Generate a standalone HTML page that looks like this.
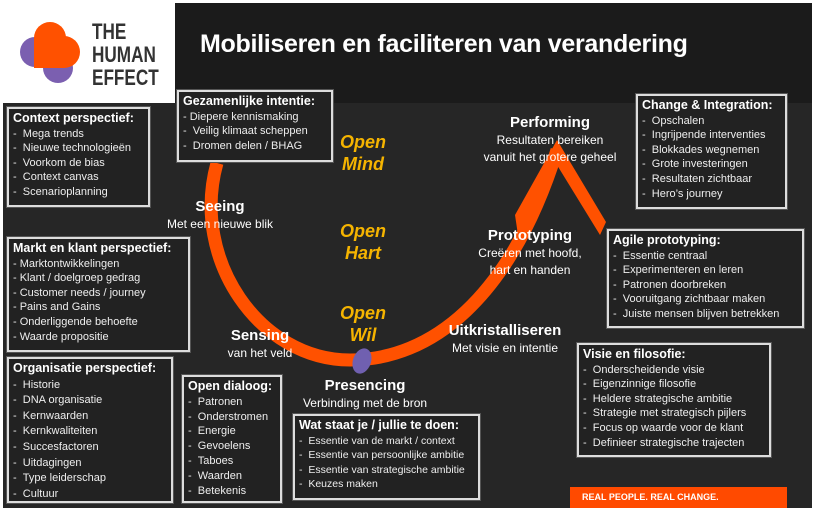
<!DOCTYPE html>
<html><head><meta charset="utf-8"><style>
body{margin:0;width:813px;height:511px;background:#fff;position:relative;overflow:hidden;font-family:"Liberation Sans",sans-serif;}
.box{position:absolute;border:2px solid #ddd;outline:1px solid #555;background:#222;color:#eee;font-size:11px;line-height:14.6px;padding:2px 4px;box-sizing:border-box;white-space:nowrap;overflow:hidden;}
.box b{font-size:12.5px;color:#fff;}
.lbl{position:absolute;color:#fff;text-align:center;font-size:12px;line-height:17px;white-space:nowrap;}
.lbl b{font-size:15px;}
.om{position:absolute;color:#f5b400;font-weight:bold;font-style:italic;font-size:18px;line-height:22px;text-align:center;width:60px;}
</style></head><body>
<div style="position:absolute;left:175px;top:3px;width:637px;height:100px;background:#1b1b1b"></div>
<div style="position:absolute;left:3px;top:103px;width:809px;height:405px;background:#262626"></div>
<div style="position:absolute;left:200px;top:30px;color:#fff;font-weight:bold;font-size:25px;letter-spacing:-0.3px">Mobiliseren en faciliteren van verandering</div>
<svg style="position:absolute;left:0;top:0" width="813" height="511">
<circle cx="35" cy="52" r="15" fill="#7b5fb0"/><circle cx="58" cy="68" r="15" fill="#7b5fb0"/>
<circle cx="50" cy="38" r="16" fill="#ff5100"/><circle cx="64" cy="52" r="16" fill="#ff5100"/>
<rect x="34" y="37" width="30" height="31" fill="#ff5100"/>
<path d="M217 163 C190 260 260 360 350 360 C430 360 510 300 557 150" fill="none" stroke="#ff5100" stroke-width="13"/>
<path d="M557 140 L515 215 L518 235 L557 165 L600 235 L606 222 Z" fill="#ff5100"/>
<ellipse cx="362" cy="361" rx="9" ry="13" fill="#7060b0" transform="rotate(20 362 361)"/>
</svg>
<div style="position:absolute;left:92px;top:20px;font-weight:bold;font-size:22px;line-height:23px;color:#333;transform:scaleX(0.78);transform-origin:0 0">THE<br>HUMAN<br>EFFECT</div>
<div class="om" style="left:333px;top:131px">Open<br>Mind</div>
<div class="om" style="left:333px;top:220px">Open<br>Hart</div>
<div class="om" style="left:333px;top:302px">Open<br>Wil</div>
<div class="lbl" style="left:150px;top:198px;width:140px"><b>Seeing</b><br>Met een nieuwe blik</div>
<div class="lbl" style="left:200px;top:327px;width:120px"><b>Sensing</b><br>van het veld</div>
<div class="lbl" style="left:285px;top:377px;width:160px"><b>Presencing</b><br>Verbinding met de bron</div>
<div class="lbl" style="left:430px;top:322px;width:150px"><b>Uitkristalliseren</b><br>Met visie en intentie</div>
<div class="lbl" style="left:470px;top:227px;width:120px"><b>Prototyping</b><br>Creëren met hoofd,<br>hart en handen</div>
<div class="lbl" style="left:470px;top:114px;width:160px"><b>Performing</b><br>Resultaten bereiken<br>vanuit het grotere geheel</div>
<div class="box" style="left:7px;top:107px;width:143px;height:100px"><b>Context perspectief:</b><br>- &nbsp;Mega trends<br>- &nbsp;Nieuwe technologieën<br>- &nbsp;Voorkom de bias<br>- &nbsp;Context canvas<br>- &nbsp;Scenarioplanning</div>
<div class="box" style="left:177px;top:90px;width:156px;height:72px"><b>Gezamenlijke intentie:</b><br>- Diepere kennismaking<br>- &nbsp;Veilig klimaat scheppen<br>- &nbsp;Dromen delen / BHAG</div>
<div class="box" style="left:7px;top:237px;width:183px;height:115px"><b>Markt en klant perspectief:</b><br>- Marktontwikkelingen<br>- Klant / doelgroep gedrag<br>- Customer needs / journey<br>- Pains and Gains<br>- Onderliggende behoefte<br>- Waarde propositie</div>
<div class="box" style="left:7px;top:357px;width:166px;height:146px;line-height:15.6px"><b>Organisatie perspectief:</b><br>- &nbsp;Historie<br>- &nbsp;DNA organisatie<br>- &nbsp;Kernwaarden<br>- &nbsp;Kernkwaliteiten<br>- &nbsp;Succesfactoren<br>- &nbsp;Uitdagingen<br>- &nbsp;Type leiderschap<br>- &nbsp;Cultuur</div>
<div class="box" style="left:182px;top:375px;width:100px;height:128px;line-height:14.8px"><b>Open dialoog:</b><br>- &nbsp;Patronen<br>- &nbsp;Onderstromen<br>- &nbsp;Energie<br>- &nbsp;Gevoelens<br>- &nbsp;Taboes<br>- &nbsp;Waarden<br>- &nbsp;Betekenis</div>
<div class="box" style="left:293px;top:414px;width:187px;height:86px;font-size:10.5px"><b>Wat staat je / jullie te doen:</b><br>- &nbsp;Essentie van de markt / context<br>- &nbsp;Essentie van persoonlijke ambitie<br>- &nbsp;Essentie van strategische ambitie<br>- &nbsp;Keuzes maken</div>
<div class="box" style="left:636px;top:94px;width:151px;height:115px"><b>Change &amp; Integration:</b><br>- &nbsp;Opschalen<br>- &nbsp;Ingrijpende interventies<br>- &nbsp;Blokkades wegnemen<br>- &nbsp;Grote investeringen<br>- &nbsp;Resultaten zichtbaar<br>- &nbsp;Hero’s journey</div>
<div class="box" style="left:607px;top:229px;width:197px;height:99px"><b>Agile prototyping:</b><br>- &nbsp;Essentie centraal<br>- &nbsp;Experimenteren en leren<br>- &nbsp;Patronen doorbreken<br>- &nbsp;Vooruitgang zichtbaar maken<br>- &nbsp;Juiste mensen blijven betrekken</div>
<div class="box" style="left:577px;top:343px;width:194px;height:114px"><b>Visie en filosofie:</b><br>- &nbsp;Onderscheidende visie<br>- &nbsp;Eigenzinnige filosofie<br>- &nbsp;Heldere strategische ambitie<br>- &nbsp;Strategie met strategisch pijlers<br>- &nbsp;Focus op waarde voor de klant<br>- &nbsp;Definieer strategische trajecten</div>
<div style="position:absolute;left:570px;top:487px;width:217px;height:21px;background:#ff4a00;color:#fff;font-weight:bold;font-size:9px;line-height:21px;padding-left:12px;box-sizing:border-box">REAL PEOPLE. REAL CHANGE.</div>
</body></html>
